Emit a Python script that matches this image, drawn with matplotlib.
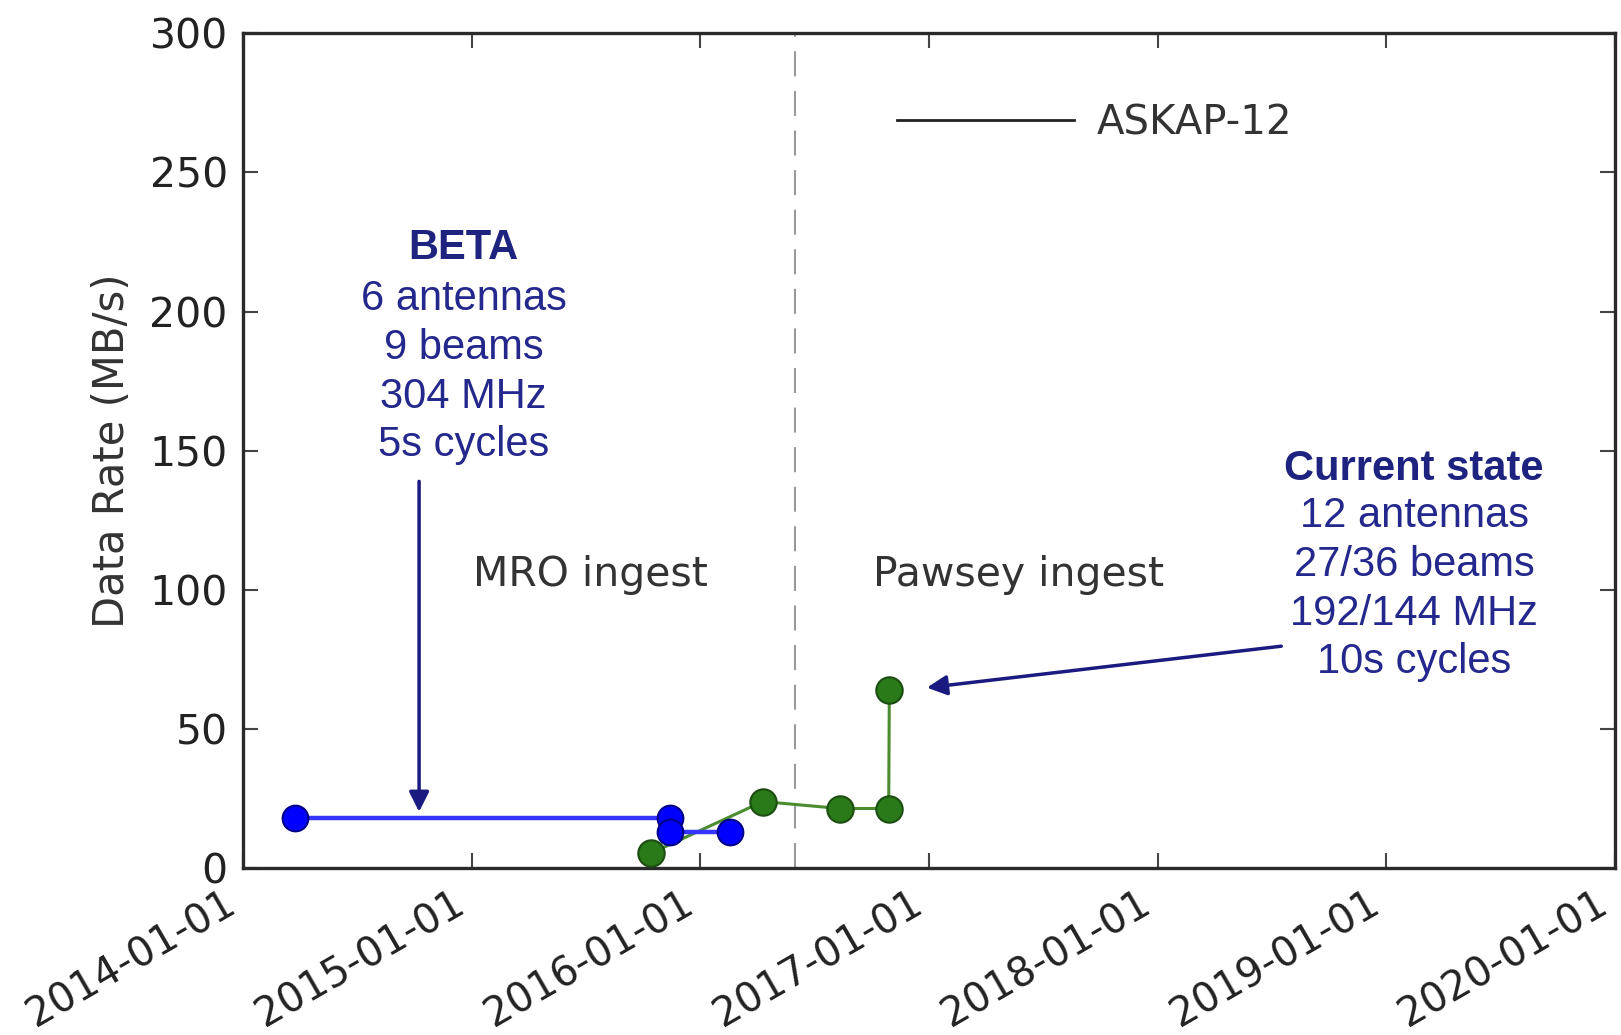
import numpy as np
import matplotlib
matplotlib.use('Agg')
import matplotlib.pyplot as plt
import matplotlib.dates as mdates
from matplotlib.lines import Line2D

# BETA ingest rates
beta_dates = ['2014-03-25', '2015-11-14', '2015-11-14', '2016-02-17']
beta_rate = [18.0, 18.0, 13.0, 13.0]

# ASKAP-12 ingest rates
askap_dates = ['2015-10-15', '2016-04-10', '2016-08-11', '2016-10-28', '2016-10-29']
askap_rate = [5.5, 24.0, 21.5, 21.5, 64.0]

# MRO -> Pawsey switch
switch_date = '2016-06-01'

beta_text = ['6 antennas', '9 beams', '304 MHz', '5s cycles']
current_text = ['12 antennas', '27/36 beams', '192/144 MHz', '10s cycles']

year_ticks = ['2014-01-01', '2015-01-01', '2016-01-01', '2017-01-01',
              '2018-01-01', '2019-01-01', '2020-01-01']
rate_ticks = [0, 50, 100, 150, 200, 250, 300]


def d(s):
    return mdates.date2num(np.datetime64(s))


navy = '#24288c'
ink = '#333333'

plt.rcParams['font.family'] = 'DejaVu Sans'
fig = plt.figure(figsize=(16.21, 10.35), dpi=100)
ax = fig.add_axes([0.150, 0.161, 0.8463, 0.807])

ax.plot([d(s) for s in beta_dates], beta_rate, '-o', color='#3535ff', lw=3.2,
        ms=18.5, mfc='#0000ff', mec='#00008a', mew=1.5, zorder=4)
ax.plot([d(s) for s in askap_dates], askap_rate, '-o', color='#4a8c2e', lw=2.2,
        ms=19, mfc='#2a7a1a', mec='#1c4d10', mew=1.5, zorder=3)

ax.axvline(d(switch_date), color='#999999', lw=1.5, ls=(0, (12, 7)), zorder=1)

ax.text(d('2015-07-09'), 105.3, 'MRO ingest', ha='center', va='center',
        fontsize=29.5, color=ink)
ax.text(d('2017-05-23'), 105.3, 'Pawsey ingest', ha='center', va='center',
        fontsize=29.5, color=ink)

# BETA label and arrow
ax.text(d('2014-12-19'), 222.7, 'BETA', ha='center', va='center', fontsize=30,
        fontweight='bold', family='Liberation Sans', color='#1f2380')
ax.text(d('2014-12-19'), 178.2, '\n'.join(beta_text), ha='center', va='center',
        fontsize=30, family='Liberation Sans', color=navy, linespacing=1.28)
ax.annotate('', xy=(d('2014-10-09'), 20.3), xytext=(d('2014-10-09'), 139),
            arrowprops=dict(arrowstyle='-|>', color='#1a1a80', lw=2.5,
                            mutation_scale=30, shrinkA=0, shrinkB=0))

# current state label and arrow
ax.text(d('2019-02-14'), 143.6, 'Current state', ha='center', va='center',
        fontsize=30, fontweight='bold', family='Liberation Sans', color='#1f2380')
ax.text(d('2019-02-14'), 100.2, '\n'.join(current_text), ha='center', va='center',
        fontsize=30, family='Liberation Sans', color=navy, linespacing=1.28)
ax.annotate('', xy=(d('2016-12-28'), 64.9), xytext=(d('2018-07-17'), 79.8),
            arrowprops=dict(arrowstyle='-|>', color='#1a1a80', lw=2.5,
                            mutation_scale=30, shrinkA=0, shrinkB=0))

# legend entry only
h = Line2D([], [], color='#222222', lw=2)
leg = ax.legend([h], ['ASKAP-12'], loc='center left', bbox_to_anchor=(0.4767, 0.892),
                frameon=False, fontsize=29, handlelength=4.4, handletextpad=0.55,
                borderpad=0, borderaxespad=0)
for t in leg.get_texts():
    t.set_color(ink)

ax.set_xlim(d(year_ticks[0]), d(year_ticks[-1]))
ax.set_ylim(0, 300)
ax.set_xticks([d(s) for s in year_ticks])
ax.xaxis.set_major_formatter(mdates.DateFormatter('%Y-%m-%d'))
ax.set_yticks(rate_ticks)

ax.tick_params(direction='in', top=True, right=True, length=11, width=1.5,
               labelsize=29.5, colors='#444444', labelcolor='#222222', pad=11)
ax.tick_params(axis='x', pad=11, labelsize=29)
for label in ax.xaxis.get_ticklabels():
    label.set_rotation(30)
    label.set_ha('right')

for sp in ax.spines.values():
    sp.set_linewidth(2.4)
    sp.set_color('#2a2a2a')

ax.set_ylabel('Data Rate (MB/s)', fontsize=30, color=ink, labelpad=12)

fig.savefig('out.png', dpi=100)
